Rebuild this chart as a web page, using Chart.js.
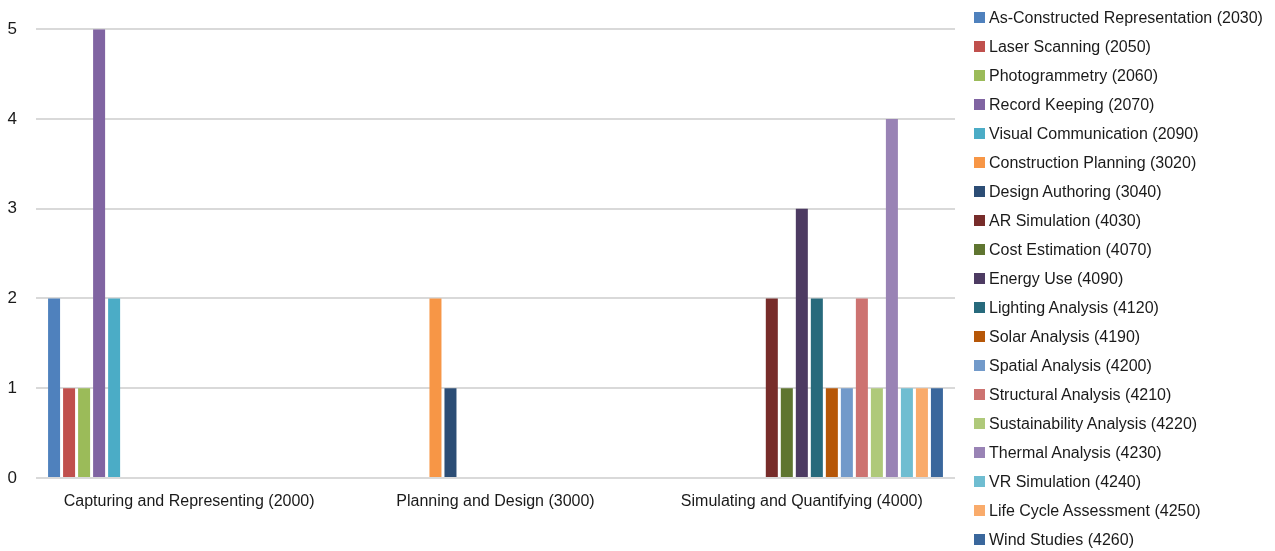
<!DOCTYPE html>
<html>
<head>
<meta charset="utf-8">
<script src="https://cdn.jsdelivr.net/npm/chart.js@4.4.1/dist/chart.umd.min.js"></script>
<style>
  html, body { margin: 0; padding: 0; background: #ffffff; }
  #wrap { position: relative; width: 1275px; height: 551px; overflow: hidden; }
  #chart { position: absolute; left: 0; top: 0; }
  #legend { position: absolute; left: 974px; top: 3px; margin: 0; padding: 0; list-style: none;
            font-family: "Liberation Sans", Arial, sans-serif; font-size: 16px; color: #1a1a1a; }
  #legend li { height: 29px; line-height: 22px; white-space: nowrap; display: flex; align-items: center; }
  #legend li span.box { display: inline-block; width: 11px; height: 11px; margin-right: 4px; flex: none; }
</style>
</head>
<body>
<div id="wrap">
  <canvas id="chart" width="1275" height="551"></canvas>
  <ul id="legend"></ul>
</div>
<script>
// Use-case groups along the x axis
const categories = [
  "Capturing and Representing (2000)",
  "Planning and Design (3000)",
  "Simulating and Quantifying (4000)"
];

// One series per use case; values per group (null = not in that group)
const seriesNames = [
  "As-Constructed Representation (2030)",
  "Laser Scanning (2050)",
  "Photogrammetry (2060)",
  "Record Keeping (2070)",
  "Visual Communication (2090)",
  "Construction Planning (3020)",
  "Design Authoring (3040)",
  "AR Simulation (4030)",
  "Cost Estimation (4070)",
  "Energy Use (4090)",
  "Lighting Analysis (4120)",
  "Solar Analysis (4190)",
  "Spatial Analysis (4200)",
  "Structural Analysis (4210)",
  "Sustainability Analysis (4220)",
  "Thermal Analysis (4230)",
  "VR Simulation (4240)",
  "Life Cycle Assessment (4250)",
  "Wind Studies (4260)"
];

const seriesValues = [
  [2, null, null],
  [1, null, null],
  [1, null, null],
  [5, null, null],
  [2, null, null],
  [null, 2, null],
  [null, 1, null],
  [null, null, 2],
  [null, null, 1],
  [null, null, 3],
  [null, null, 2],
  [null, null, 1],
  [null, null, 1],
  [null, null, 2],
  [null, null, 1],
  [null, null, 4],
  [null, null, 1],
  [null, null, 1],
  [null, null, 1]
];

const seriesColors = [
  "#4F81BD", "#C0504D", "#9BBB59", "#8064A2", "#4BACC6",
  "#F79646", "#2C4D75", "#772C2A", "#5F7530", "#4D3B62",
  "#276A7C", "#B65708", "#729ACA", "#CD7371", "#AFC97A",
  "#9983B5", "#6FBDD1", "#F9AB6B", "#3A679C"
];

const yTicks = [0, 1, 2, 3, 4, 5];

const FONT = "'Liberation Sans', Arial, sans-serif";

const datasets = seriesNames.map((name, i) => ({
  label: name,
  data: seriesValues[i],
  backgroundColor: seriesColors[i],
  borderWidth: 0,
  categoryPercentage: 0.931,
  barPercentage: 0.8
}));

const chart = new Chart(document.getElementById("chart"), {
  type: "bar",
  data: { labels: categories, datasets },
  options: {
    responsive: false,
    animation: false,
    devicePixelRatio: 1,
    layout: { padding: { top: 29, right: 320, left: 0, bottom: 0 } },
    plugins: {
      legend: { display: false },
      tooltip: { enabled: false },
      title: { display: false }
    },
    scales: {
      x: {
        grid: { display: false, drawTicks: false },
        border: { display: false },
        ticks: {
          color: "#1a1a1a",
          font: { family: FONT, size: 16 },
          padding: 14,
          maxRotation: 0,
          autoSkip: false
        },
        afterFit(axis) { axis.height = 73; }
      },
      y: {
        min: 0,
        max: 5,
        afterBuildTicks(axis) { axis.ticks = yTicks.map(v => ({ value: v })); },
        grid: { color: "#d9d9d9", lineWidth: 2, drawTicks: false },
        border: { display: false },
        ticks: {
          color: "#1a1a1a",
          font: { family: FONT, size: 17 },
          padding: 19
        },
        afterFit(axis) { axis.width = 36; }
      }
    }
  }
});

// Legend list built from the chart's own datasets
const legend = document.getElementById("legend");
chart.data.datasets.forEach(ds => {
  const li = document.createElement("li");
  const box = document.createElement("span");
  box.className = "box";
  box.style.background = ds.backgroundColor;
  li.appendChild(box);
  li.appendChild(document.createTextNode(ds.label));
  legend.appendChild(li);
});
</script>
</body>
</html>
